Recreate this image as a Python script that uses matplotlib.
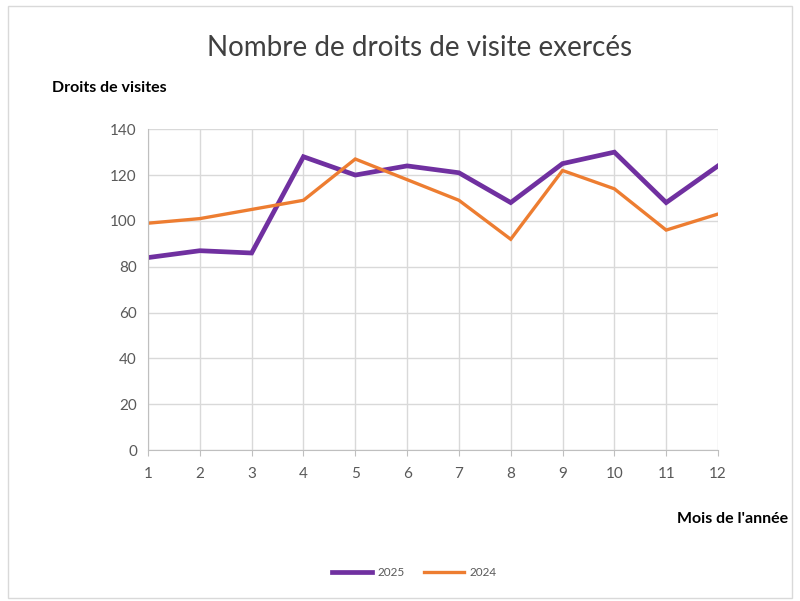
import matplotlib.pyplot as plt
from matplotlib.patches import Rectangle

months = list(range(1, 13))
visits_2025 = [84, 87, 86, 128, 120, 124, 121, 108, 125, 130, 108, 124]
visits_2024 = [99, 101, 105, 109, 127, 118, 109, 92, 122, 114, 96, 103]
y_ticks = [0, 20, 40, 60, 80, 100, 120, 140]

plt.rcParams['font.family'] = ['Lato', 'DejaVu Sans']

fig = plt.figure(figsize=(8, 6.01), dpi=100)
ax = fig.add_axes([0.185, 0.251, 0.7125, 0.534])

ax.plot(months, visits_2025, color='#7030A0', lw=3.4, label='2025', solid_joinstyle='miter')
ax.plot(months, visits_2024, color='#ED7D31', lw=2.4, label='2024', solid_joinstyle='miter')

ax.set_xlim(1, 12)
ax.set_ylim(0, 140)
ax.set_xticks(months)
ax.set_yticks(y_ticks)
ax.grid(True, color='#D9D9D9', lw=1)
ax.set_axisbelow(True)
for side in ['top', 'right']:
    ax.spines[side].set_visible(False)
for side in ['left', 'bottom']:
    ax.spines[side].set_color('#BFBFBF')
ax.tick_params(colors='#595959', labelsize=11, length=0, pad=8)
ax.tick_params(axis='x', length=4, color='#BFBFBF', direction='out')

fig.text(0.525, 0.92, 'Nombre de droits de visite exercés', ha='center', va='center',
         fontsize=20, color='#404040', fontweight='normal')
fig.text(0.065, 0.853, 'Droits de visites', ha='left', va='center',
         fontsize=11.5, fontweight='bold', color='black')
fig.text(0.985, 0.137, "Mois de l'année", ha='right', va='center',
         fontsize=11.5, fontweight='bold', color='black')

fig.legend(loc='center', bbox_to_anchor=(0.518, 0.047), ncol=2, frameon=False,
           fontsize=8.5, handlelength=3.4, handletextpad=0.5, columnspacing=1.6,
           labelcolor='#595959')

fig.add_artist(Rectangle((0.01, 0.005), 0.98, 0.985, transform=fig.transFigure,
                         fill=False, edgecolor='#D9D9D9', lw=1))

fig.savefig('out.png', dpi=100)
